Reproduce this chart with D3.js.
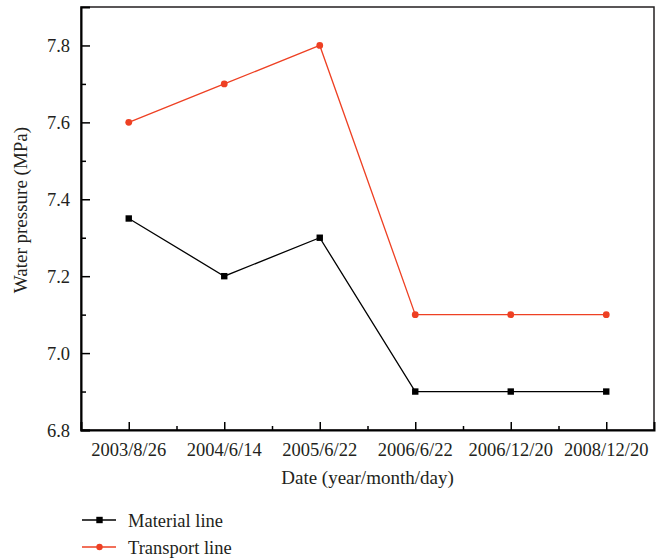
<!DOCTYPE html>
<html>
<head>
<meta charset="utf-8">
<script src="https://d3js.org/d3.v7.min.js"></script>
<style>
body { margin: 0; background: #fff; }
text { font-family: "Liberation Serif", "DejaVu Serif", serif; fill: #231f20; }
</style>
</head>
<body>
<svg id="chart"></svg>
<script>
// data
var dates = ["2003/8/26", "2004/6/14", "2005/6/22", "2006/6/22", "2006/12/20", "2008/12/20"];
var material = [7.35, 7.2, 7.3, 6.9, 6.9, 6.9];
var transport = [7.6, 7.7, 7.8, 7.1, 7.1, 7.1];
var yTicks = [6.8, 7.0, 7.2, 7.4, 7.6, 7.8];
var yMinor = [6.9, 7.1, 7.3, 7.5, 7.7];

var screen = {width: 661, height: 560};
var margins = {top: 7, left: 81, right: 7, bottom: 130};
var graph = {width: screen.width - margins.left - margins.right, height: screen.height - margins.top - margins.bottom};
var fs = 18.5;

var svg = d3.select("#chart")
    .attr("width", screen.width)
    .attr("height", screen.height);

var xScale = d3.scaleLinear()
    .domain([0.5, dates.length + 0.5])
    .range([0, graph.width]);
var yScale = d3.scaleLinear()
    .domain([6.8, 7.9])
    .range([graph.height, 0]);

var g = svg.append("g")
    .attr("transform", "translate(" + margins.left + "," + margins.top + ")");

// frame
g.append("rect")
    .attr("width", graph.width)
    .attr("height", graph.height)
    .attr("fill", "none")
    .attr("stroke", "#231f20")
    .attr("stroke-width", 1.5);

// y axis, ticks point inward
var yAxis = d3.axisRight(yScale).tickValues(yTicks).tickFormat(d3.format(".1f")).tickSize(9);
var ya = g.append("g").call(yAxis);
ya.select(".domain").attr("stroke-width", 2);
ya.selectAll(".tick line").attr("stroke-width", 1.5);
ya.selectAll(".tick text").attr("font-size", fs).attr("text-anchor", "end").attr("x", -11).attr("dy", "0.34em");
g.append("g").call(d3.axisRight(yScale).tickValues(yMinor).tickSize(5).tickFormat(""))
    .call(function(s) { s.select(".domain").remove(); s.selectAll("line").attr("stroke-width", 1.5); });

// x axis
var idx = d3.range(1, dates.length + 1);
var xAxis = d3.axisTop(xScale).tickValues(idx).tickSize(8).tickFormat("");
var xa = g.append("g").attr("transform", "translate(0," + graph.height + ")").call(xAxis);
xa.select(".domain").attr("stroke-width", 2);
xa.selectAll("line").attr("stroke-width", 1.5);
g.append("g").attr("transform", "translate(0," + graph.height + ")")
    .call(d3.axisTop(xScale).tickValues(d3.range(1.5, dates.length, 1)).tickSize(4).tickFormat(""))
    .call(function(s) { s.select(".domain").remove(); s.selectAll("line").attr("stroke-width", 1.5); });
g.append("g").selectAll("text")
    .data(dates)
    .enter()
    .append("text")
    .attr("x", function(d, i) { return xScale(i + 1); })
    .attr("y", graph.height + 26)
    .attr("text-anchor", "middle")
    .attr("font-size", fs)
    .text(function(d) { return d; });

// labels
svg.append("text")
    .text("Date (year/month/day)")
    .attr("x", margins.left + graph.width / 2)
    .attr("y", 484)
    .attr("text-anchor", "middle")
    .attr("font-size", fs + 0.5);
svg.append("g")
    .attr("transform", "translate(27,210)")
    .append("text")
    .text("Water pressure (MPa)")
    .attr("text-anchor", "middle")
    .attr("transform", "rotate(-90)")
    .attr("font-size", fs + 0.5);

// lines
var series = [
    {name: "Material line", values: material, color: "#000000", shape: "square"},
    {name: "Transport line", values: transport, color: "#ee4023", shape: "circle"}
];
var linegen = d3.line()
    .x(function(d, i) { return xScale(i + 1); })
    .y(function(d) { return yScale(d); });

series.forEach(function(s) {
    g.append("path")
        .datum(s.values)
        .attr("d", linegen)
        .attr("fill", "none")
        .attr("stroke", s.color)
        .attr("stroke-width", 1.3);
    var pts = g.append("g").selectAll(".pt").data(s.values).enter();
    if (s.shape == "square") {
        pts.append("rect")
            .attr("x", function(d, i) { return xScale(i + 1) - 3.2; })
            .attr("y", function(d) { return yScale(d) - 3.2; })
            .attr("width", 6.4).attr("height", 6.4)
            .attr("fill", s.color);
    } else {
        pts.append("circle")
            .attr("cx", function(d, i) { return xScale(i + 1); })
            .attr("cy", function(d) { return yScale(d); })
            .attr("r", 3.4)
            .attr("fill", s.color);
    }
});

// legend
var legend = svg.append("g").attr("transform", "translate(82,520)");
series.forEach(function(s, i) {
    var row = legend.append("g").attr("transform", "translate(0," + (i * 27) + ")");
    row.append("line").attr("x1", 0).attr("x2", 34).attr("y1", 0).attr("y2", 0)
        .attr("stroke", s.color).attr("stroke-width", 1.3);
    if (s.shape == "square") {
        row.append("rect").attr("x", 14.3).attr("y", -3.2).attr("width", 6.4).attr("height", 6.4).attr("fill", s.color);
    } else {
        row.append("circle").attr("cx", 17.5).attr("cy", 0).attr("r", 3.2).attr("fill", s.color);
    }
    row.append("text").attr("x", 46).attr("y", 6.5).attr("font-size", fs).text(s.name);
});
</script>
</body>
</html>
